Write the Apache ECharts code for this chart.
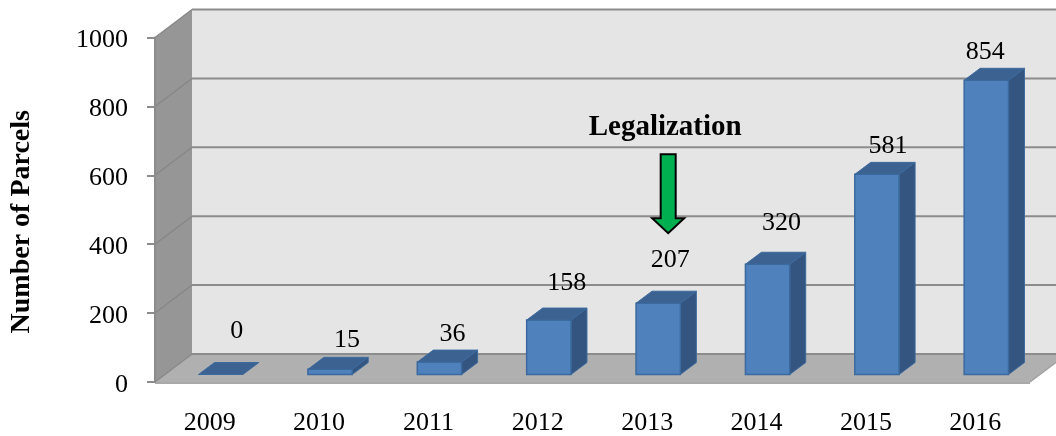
<!DOCTYPE html>
<html><head><meta charset="utf-8">
<style>html,body{margin:0;padding:0;background:#fff}#c{width:1056px;height:436px}</style>
<script src="https://cdn.jsdelivr.net/npm/echarts@6/dist/echarts.min.js"></script>
</head><body><div id="c"></div>
<script>
const categories = ['2009','2010','2011','2012','2013','2014','2015','2016'];
const parcels = [0,15,36,158,207,320,581,854];
const yTicks = [0,200,400,600,800,1000];
const labelLift = [31,17,16,25,31,29,16,16];
const labelShift = [8,9,5,10,4,6,3,-9];
const noteCategory = '2013';
const noteText = 'Legalization';
const noteTextValue = 739;
const noteArrowTipValue = 432;

const FONT = '"Liberation Serif", serif';
const WALL = {dx:37, dy:-28};     // plot depth
const BAR_IN = {dx:11, dy:-7.5};  // bar front-face inset from floor edge
const BAR_D = {dx:16, dy:-12};    // bar depth
const C = {back:'#e5e5e5', side:'#969696', floor:'#b0b0b0', grid:'#8c8c8c', edge:'#a9a9a9',
           front:'#4f81bd', right:'#34557f', top:'#3b6291', stroke:'#3c6a9e'};

function poly(points, fill, stroke, lw){
  return {type:'polygon', shape:{points}, style:{fill, stroke:stroke||null, lineWidth:lw||0}};
}
function renderWalls(params, api){
  const o = api.coord([0,0]); const band = api.size([1,0])[0];
  const x0 = o[0]-band/2, y0 = o[1];
  const x1 = x0+band*categories.length;
  const yTop = api.coord([0,1000])[1];
  return {type:'group', children:[
    poly([[x0+WALL.dx,yTop+WALL.dy],[x1+WALL.dx,yTop+WALL.dy],[x1+WALL.dx,y0+WALL.dy],[x0+WALL.dx,y0+WALL.dy]],C.back),
    poly([[x0,yTop],[x0+WALL.dx,yTop+WALL.dy],[x0+WALL.dx,y0+WALL.dy],[x0,y0]],C.side),
    poly([[x0,y0],[x1,y0],[x1+WALL.dx,y0+WALL.dy],[x0+WALL.dx,y0+WALL.dy]],C.floor),
    {type:'line',shape:{x1:x0,y1:y0+1,x2:x1,y2:y0+1},style:{stroke:C.edge,lineWidth:2}},
    {type:'line',shape:{x1:x1,y1:y0,x2:x1+WALL.dx,y2:y0+WALL.dy},style:{stroke:'#a0a0a0',lineWidth:1.5}}
  ]};
}
function renderGrid(params, api){
  const v = api.value(0);
  const o = api.coord([0,v]); const band = api.size([1,0])[0];
  const x0 = o[0]-band/2, y = o[1];
  const x1 = x0+band*categories.length;
  return {type:'group', children:[
    {type:'line',shape:{x1:x0,y1:y,x2:x0+WALL.dx,y2:y+WALL.dy},style:{stroke:'#868686',lineWidth:1.2}},
    {type:'line',shape:{x1:x0+WALL.dx,y1:y+WALL.dy,x2:x1+WALL.dx,y2:y+WALL.dy},style:{stroke:C.grid,lineWidth:2}}
  ]};
}
function renderBar(params, api){
  const i = api.value(0), v = api.value(1);
  const p = api.coord([i,v]), b = api.coord([i,0]);
  const w = api.size([1,0])[0]*0.405;
  const l = p[0]-w/2+BAR_IN.dx, r = l+w;
  const t = p[1]+BAR_IN.dy, u = b[1]+BAR_IN.dy;
  const kids = [];
  if (v>0){
    kids.push(poly([[r,t],[r+BAR_D.dx,t+BAR_D.dy],[r+BAR_D.dx,u+BAR_D.dy],[r,u]],C.right,C.stroke,1));
    kids.push(poly([[l,t],[r,t],[r,u],[l,u]],C.front,C.stroke,1.5));
  }
  kids.push(poly([[l,t],[r,t],[r+BAR_D.dx,t+BAR_D.dy],[l+BAR_D.dx,t+BAR_D.dy]],C.top,C.stroke,1));
  kids.push({type:'text',style:{text:String(v),x:l+w/2+8+labelShift[i],y:t+BAR_D.dy-labelLift[i],
    align:'center',verticalAlign:'middle',font:'26px '+FONT,fill:'#000'}});
  return {type:'group',children:kids};
}
function renderNote(params, api){
  const tip = api.coord([noteCategory,noteArrowTipValue]);
  const txt = api.coord([noteCategory,noteTextValue]);
  const tx = tip[0]+21, ty = tip[1];
  return {type:'group',children:[
    poly([[tx-7.5,ty-79],[tx+7.5,ty-79],[tx+7.5,ty-15],[tx+16,ty-15],[tx,ty],[tx-16,ty-15],[tx-7.5,ty-15]],'#00b050','#000',2),
    {type:'text',style:{text:noteText,x:txt[0]+18,y:txt[1],align:'center',verticalAlign:'middle',font:'bold 29px '+FONT,fill:'#000'}}
  ]};
}
const chart = echarts.init(document.getElementById('c'),null,{renderer:'canvas'});
chart.setOption({
  animation:false,
  backgroundColor:'#fff',
  grid:{left:155,right:26,top:37.5,bottom:54,containLabel:false,outerBoundsMode:'none'},
  xAxis:{type:'category',data:categories,z:1,
    axisLine:{show:false},axisTick:{show:false},
    axisLabel:{fontFamily:FONT,fontSize:26,color:'#000',margin:28}},
  yAxis:{type:'value',min:0,max:1000,interval:200,z:5,
    name:'Number of Parcels',nameLocation:'middle',nameGap:119,
    nameTextStyle:{fontFamily:FONT,fontSize:28,fontWeight:'bold',color:'#000',padding:[0,24,0,0]},
    splitLine:{show:false},
    axisLine:{show:true,lineStyle:{color:'#8c8c8c',width:2}},
    axisTick:{show:true,length:8,lineStyle:{color:'#8c8c8c',width:2}},
    axisLabel:{margin:27,formatter:v=>'{t|'+v+'}',
      rich:{t:{fontFamily:FONT,fontSize:26,color:'#000',padding:[6,0,0,0]}}}},
  series:[
    {type:'custom',coordinateSystem:'cartesian2d',clip:false,z:1,silent:true,data:[[0]],renderItem:renderWalls,encode:{x:0}},
    {type:'custom',coordinateSystem:'cartesian2d',clip:false,z:2,silent:true,data:yTicks.map(v=>[v]),renderItem:renderGrid,encode:{y:0}},
    {type:'custom',coordinateSystem:'cartesian2d',clip:false,z:3,silent:true,
     data:parcels.map((v,i)=>[i,v]),renderItem:renderBar,encode:{x:0,y:1}},
    {type:'custom',coordinateSystem:'cartesian2d',clip:false,z:4,silent:true,data:[[0]],renderItem:renderNote,encode:{x:0}}
  ]
});
</script></body></html>
